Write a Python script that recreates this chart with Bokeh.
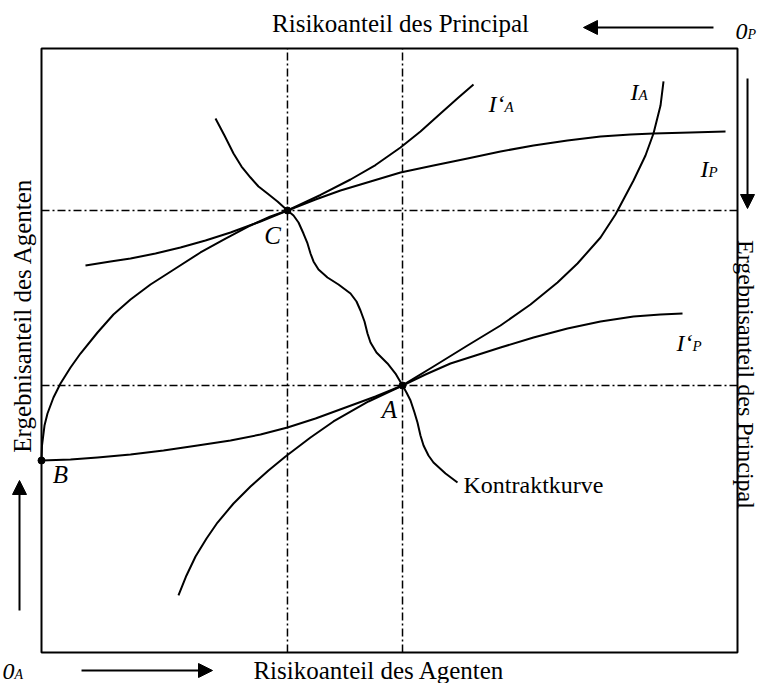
from bokeh.plotting import figure
from bokeh.models import Range1d, Arrow, NormalHead
from bokeh.core.properties import value
from bokeh.embed import file_html
from bokeh.resources import INLINE
import math

# ---- data (Edgeworth box units, 0..100 each way) ----
point_names = ["C", "A", "B"]
point_x = [35.34, 51.87, 0.0]
point_y = [73.18, 44.21, 31.79]

# I'_A : agent indifference curve through B and C
ia2_x = [0.0, 0.07, 0.43, 0.86, 1.72, 2.73, 4.17, 5.60, 8.05, 10.34, 12.79, 15.66, 19.25,
         22.84, 26.44, 30.03, 32.90, 35.34, 40.09, 44.40, 47.99, 51.58, 54.45, 57.33, 59.91, 62.07]
ia2_y = [31.79, 34.27, 37.58, 39.57, 42.22, 44.54, 47.19, 49.50, 52.98, 55.96, 58.44, 60.93, 63.58,
         66.23, 68.54, 70.70, 72.19, 73.18, 75.75, 78.31, 80.71, 83.61, 86.26, 89.24, 91.89, 94.04]

# I_P : principal indifference curve through C
ip_x = [6.32, 9.91, 12.79, 16.38, 19.97, 23.56, 27.16, 31.47, 35.34, 39.37, 42.96, 47.27,
        51.58, 56.32, 61.21, 65.95, 70.69, 75.57, 80.32, 84.63, 87.93, 93.25, 98.28]
ip_y = [64.07, 64.74, 65.23, 66.06, 67.05, 68.21, 69.54, 71.36, 73.18, 75.00, 76.49, 77.98,
        79.47, 80.63, 81.79, 82.95, 83.94, 84.77, 85.43, 85.76, 85.93, 86.09, 86.26]

# I'_P : principal indifference curve through B and A
ip2_x = [0.0, 4.17, 8.05, 12.79, 17.53, 22.41, 27.16, 31.47, 35.34, 39.37, 43.68, 47.99,
         51.87, 55.17, 58.76, 62.36, 65.95, 70.69, 75.57, 80.32, 85.06, 88.94, 92.10]
ip2_y = [31.79, 31.95, 32.28, 32.78, 33.44, 34.27, 35.10, 36.09, 37.25, 38.74, 40.56, 42.38,
         44.21, 46.03, 47.85, 49.17, 50.50, 52.15, 53.64, 54.80, 55.63, 55.96, 56.13]

# I_A : agent indifference curve through A
ia_x = [19.68, 20.83, 22.13, 23.71, 25.29, 27.59, 30.03, 32.61, 35.06, 38.65, 41.95, 46.98,
        51.87, 56.32, 61.21, 65.95, 70.26, 74.14, 77.01, 80.32, 82.47, 85.06, 86.78, 87.93, 88.94, 89.37]
ia_y = [9.44, 12.75, 15.89, 18.87, 21.52, 24.67, 27.48, 30.13, 32.45, 35.60, 38.25, 41.56,
        44.21, 47.35, 50.83, 54.14, 57.62, 61.26, 64.40, 68.71, 72.52, 78.15, 82.28, 85.93, 90.56, 94.54]

# Kontraktkurve
kk_x = [25.00, 26.29, 27.59, 28.74, 30.03, 31.18, 32.47, 33.91, 35.34, 36.21, 36.93, 37.64,
        38.22, 38.65, 39.08, 39.80, 41.09, 42.67, 44.40, 45.26, 45.83, 46.41, 46.84, 47.27,
        48.13, 49.71, 50.86, 51.87, 52.44, 53.02, 53.59, 54.02, 54.45, 54.89, 55.60, 56.32,
        58.05, 59.77]
kk_y = [88.41, 85.60, 82.62, 80.46, 78.64, 77.15, 75.99, 74.67, 73.18, 72.35, 71.19, 69.37,
        67.72, 66.06, 64.74, 63.41, 62.09, 60.93, 59.44, 58.11, 56.62, 54.80, 52.81, 51.32,
        49.67, 47.85, 46.19, 44.21, 43.05, 41.72, 39.74, 38.08, 35.93, 34.27, 32.62, 31.46,
        29.64, 28.15]

title_top = "Risikoanteil des Principal"
title_bottom = "Risikoanteil des Agenten"
title_left = "Ergebnisanteil des Agenten"
title_right = "Ergebnisanteil des Principal"
curve_label = "Kontraktkurve"

FONT = value("Liberation Serif")

p = figure(width=760, height=683, output_backend="svg", toolbar_location=None,
           x_range=Range1d(-5.891, 103.305), y_range=Range1d(-5.132, 107.947),
           min_border=0, min_border_left=0, min_border_right=0,
           min_border_top=0, min_border_bottom=0)
p.axis.visible = False
p.grid.visible = False
p.outline_line_color = None
p.background_fill_color = "white"

# box
p.quad(left=[0], right=[100], bottom=[0], top=[100], fill_alpha=0,
       line_color="black", line_width=2)

# dash-dot guide lines through C and A
gx = [point_x[0], point_x[1]]
gy = [point_y[0], point_y[1]]
p.segment(x0=gx, y0=[0, 0], x1=gx, y1=[100, 100], line_color="black",
          line_width=1.5, line_dash="8 3 2 3")
p.segment(x0=[0, 0], y0=gy, x1=[100, 100], y1=gy, line_color="black",
          line_width=1.5, line_dash="8 3 2 3")

for xs, ys in [(ia2_x, ia2_y), (ip_x, ip_y), (ip2_x, ip2_y), (ia_x, ia_y), (kk_x, kk_y)]:
    p.line(xs, ys, line_color="black", line_width=2, line_join="round")

p.scatter(point_x, point_y, size=7, color="black")

# point labels
p.text(x=[33.19, 50.0, 2.73], y=[69.04, 40.23, 29.47], text=point_names,
       text_font=FONT, text_font_style="italic", text_font_size="25px",
       text_align="center", text_baseline="middle", text_color="black")

# curve labels: base + subscript
lab_x = [64.22, 84.63, 94.68, 91.24]
lab_y = [90.89, 92.72, 80.13, 51.16]
lab_base = ["I\u2018", "I", "I", "I\u2018"]
lab_sub = ["A", "A", "P", "P"]
lab_off = [16, 8, 8, 16]
p.text(x=lab_x, y=lab_y, text=lab_base, text_font=FONT, text_font_style="italic",
       text_font_size="24px", text_align="left", text_baseline="alphabetic")
p.text(x=lab_x, y=lab_y, text=lab_sub, x_offset=lab_off, y_offset=[3, 3, 3, 3],
       text_font=FONT, text_font_style="italic", text_font_size="15px",
       text_align="left", text_baseline="alphabetic")

# origins
p.text(x=[99.71, -5.6], y=[102.81, -3.15], text=["0", "0"], text_font=FONT,
       text_font_style="italic", text_font_size="24px", text_align="left",
       text_baseline="alphabetic")
p.text(x=[99.71, -5.6], y=[102.81, -3.15], text=["P", "A"], x_offset=[12, 12],
       y_offset=[3, 3], text_font=FONT, text_font_style="italic",
       text_font_size="14px", text_align="left", text_baseline="alphabetic")

# Kontraktkurve label
p.text(x=[60.63], y=[27.65], text=[curve_label], text_font=FONT, text_font_size="24px",
       text_align="left", text_baseline="middle")

# axis titles
p.text(x=[51.58], y=[104.14], text=[title_top], text_font=FONT, text_font_size="25px",
       text_align="center", text_baseline="middle")
p.text(x=[48.5], y=[-2.98], text=[title_bottom], text_font=FONT, text_font_size="25px",
       text_align="center", text_baseline="middle")
p.text(x=[-2.73], y=[55.79], text=[title_left], angle=[math.pi / 2], text_font=FONT,
       text_font_size="25px", text_align="center", text_baseline="middle")
p.text(x=[101.29], y=[46.03], text=[title_right], angle=[-math.pi / 2], text_font=FONT,
       text_font_size="24px", text_align="center", text_baseline="middle")

# direction arrows
def arrow(x0, y0, x1, y1):
    p.add_layout(Arrow(end=NormalHead(size=14, fill_color="black", line_color="black"),
                       x_start=x0, y_start=y0, x_end=x1, y_end=y1,
                       line_color="black", line_width=2))

arrow(96.55, 103.48, 77.87, 103.48)   # top, pointing left
arrow(5.75, -2.98, 24.57, -2.98)      # bottom, pointing right
arrow(-3.16, 6.95, -3.16, 28.48)      # left, pointing up
arrow(101.44, 95.03, 101.44, 73.51)   # right, pointing down

open("out.html", "w").write(file_html(p, INLINE))
